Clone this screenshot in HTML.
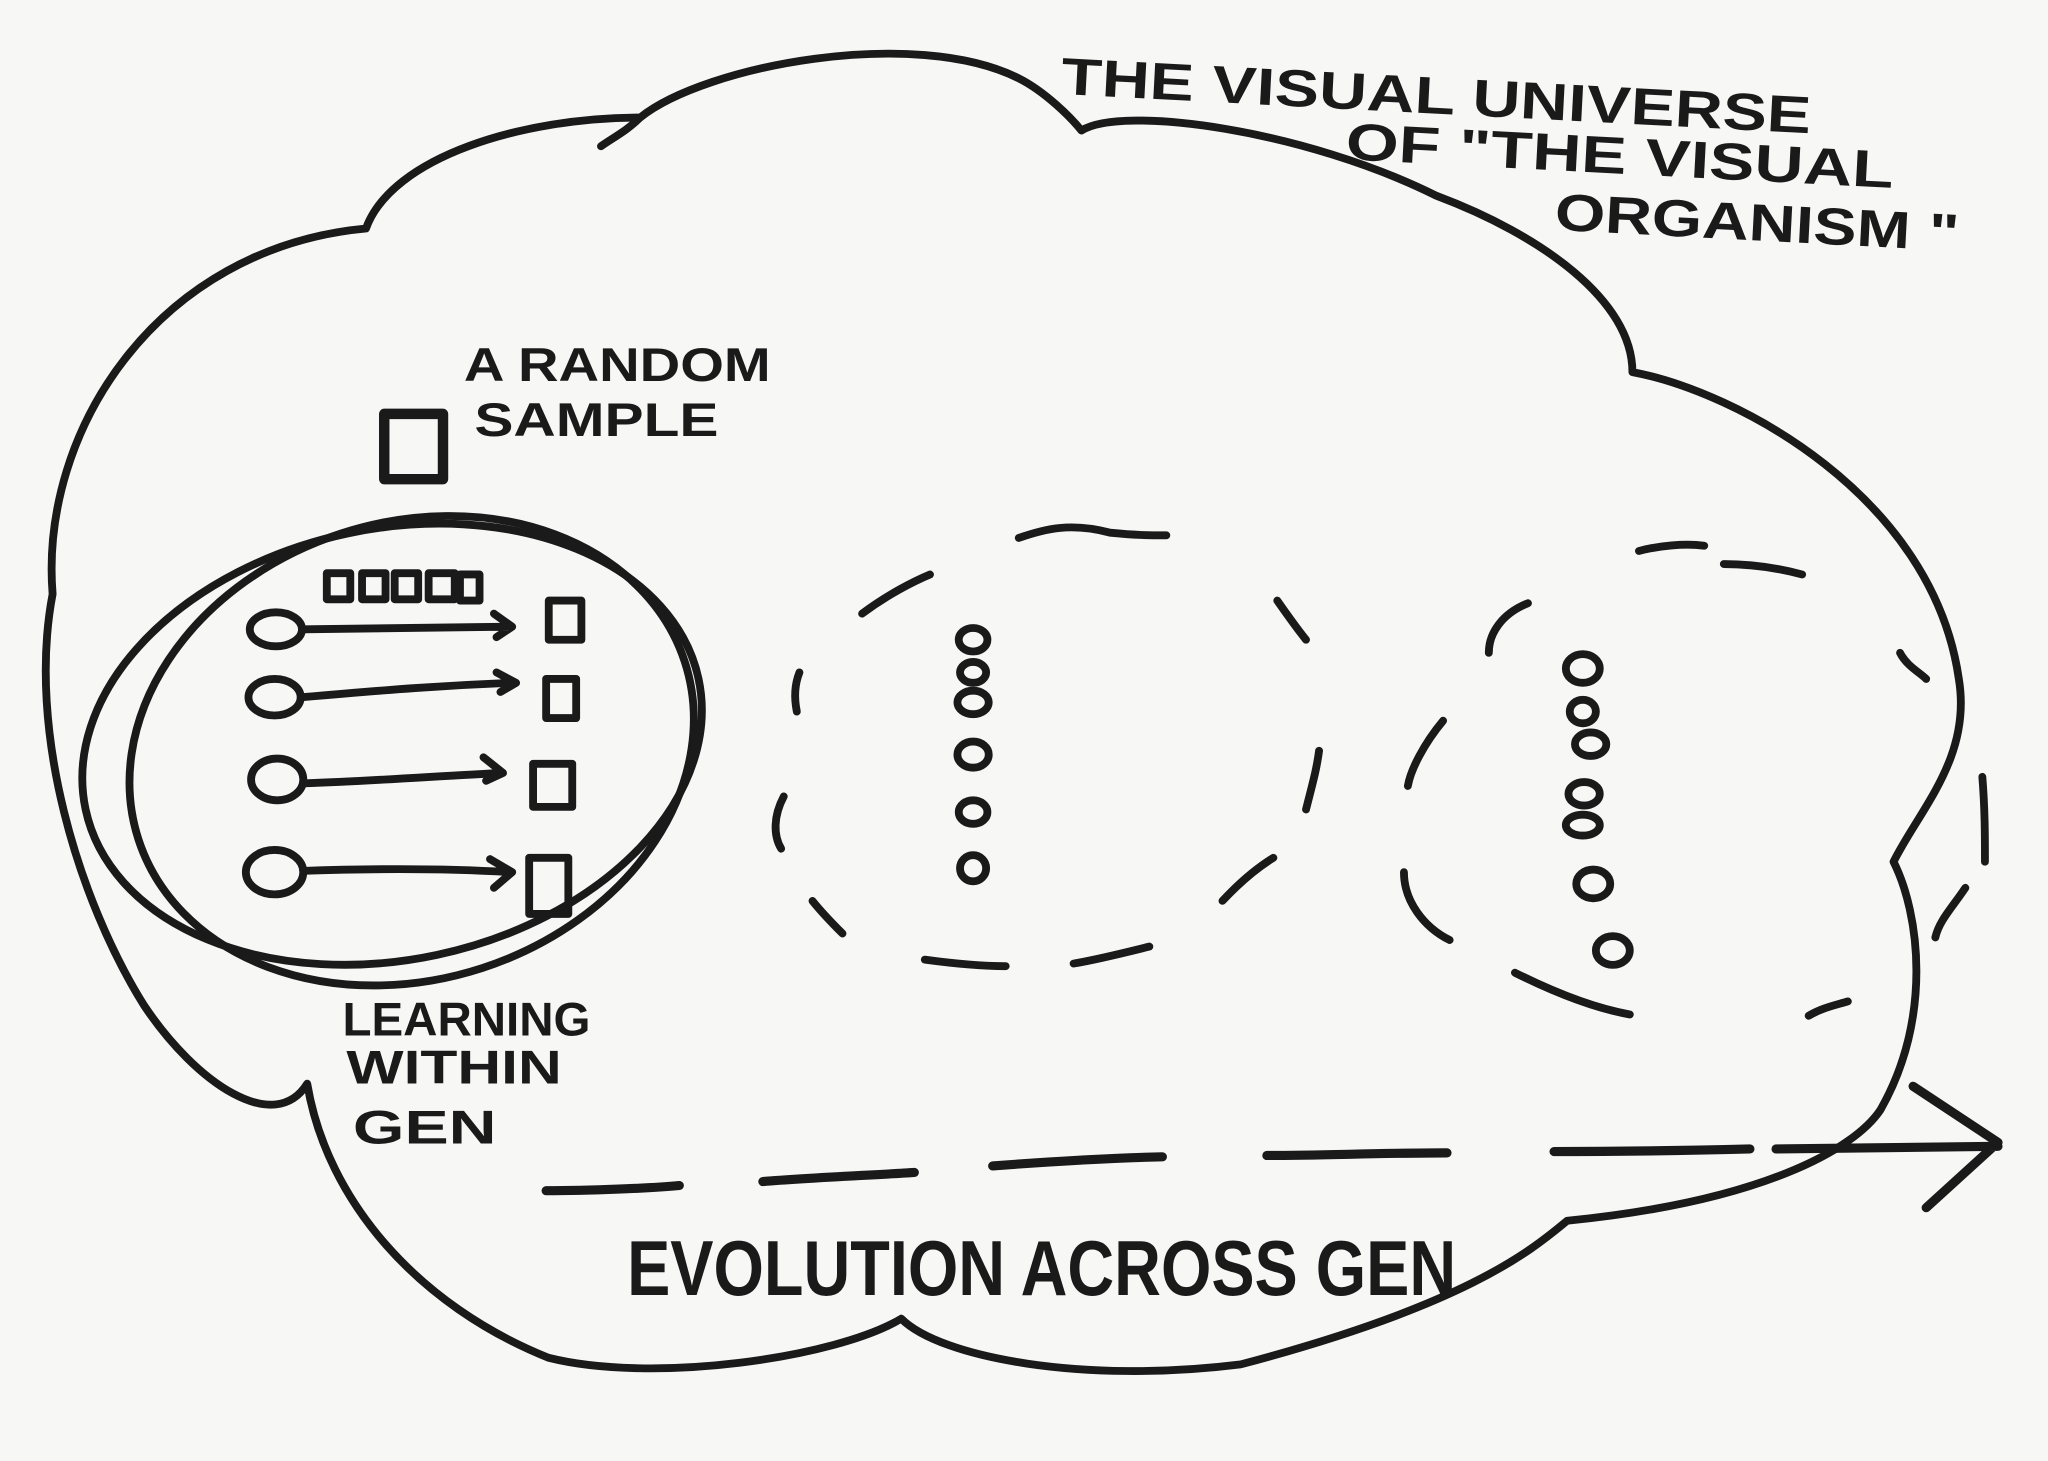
<!DOCTYPE html>
<html><head><meta charset="utf-8"><style>
html,body{margin:0;padding:0;background:#f7f7f6;}
svg{display:block;}
text{font-family:"Liberation Sans",sans-serif;font-weight:bold;fill:#1a1a1a;}
</style></head><body>
<svg width="2048" height="1461" viewBox="0 0 1568 1119" xmlns="http://www.w3.org/2000/svg">
<rect width="1568" height="1119" fill="#f7f7f6"/>
<g fill="none" stroke="#1a1a1a" stroke-width="6" stroke-linecap="round" stroke-linejoin="round">
<path d="M40,455 C30,330 120,190 280,175 C300,120 400,90 490,90 C540,50 700,20 780,60 C800,70 820,90 828,100 C860,80 1000,100 1100,150 C1180,180 1250,230 1250,285 C1330,300 1480,380 1500,520 C1510,580 1470,620 1450,660 C1470,700 1480,780 1440,850 C1420,880 1350,920 1200,935 C1170,960 1120,1000 950,1045 C830,1060 720,1040 690,1010 C640,1040 500,1060 420,1040 C320,1000 250,920 235,830 C210,870 150,830 110,770 C60,690 20,560 40,455 Z"/>
<path d="M490,90 C480,100 470,105 460,112"/>
<ellipse cx="300" cy="570" rx="240" ry="165" transform="rotate(-12 300 570)"/>
<ellipse cx="315" cy="575" rx="220" ry="175" transform="rotate(-18 315 575)"/>
<rect x="294" y="317" width="45" height="50" stroke-width="8"/>
<g stroke-width="6">
<rect x="250" y="439" width="18" height="20"/><rect x="277" y="439" width="18" height="20"/>
<rect x="302" y="439" width="18" height="20"/><rect x="328" y="439" width="20" height="20"/>
<rect x="352" y="440" width="15" height="20"/>
<rect x="420" y="460" width="25" height="30"/><rect x="418" y="520" width="23" height="30"/>
<rect x="408" y="585" width="30" height="33"/><rect x="405" y="657" width="30" height="43"/>
<ellipse cx="211" cy="482" rx="20" ry="13"/><ellipse cx="210" cy="534" rx="20" ry="14"/>
<ellipse cx="212" cy="597" rx="20" ry="16"/><ellipse cx="210" cy="668" rx="22" ry="17"/>
<path d="M232,482 L390,480 M378,470 L392,480 L380,488"/>
<path d="M231,534 C300,528 340,525 390,523 M380,515 L395,523 L383,530"/>
<path d="M232,600 C290,598 340,594 385,592 M370,580 L385,592 L372,598"/>
<path d="M232,667 C290,665 340,665 390,668 M375,658 L392,668 L378,680"/>
</g>
<path d="M780,412 C800,405 820,400 850,408 C870,410 880,410 893,410"/>
<path d="M660,470 C680,455 700,445 712,440"/>
<path d="M612,515 C608,525 608,535 610,545"/>
<path d="M600,610 C592,625 592,640 598,650"/>
<path d="M622,690 C630,700 640,710 645,715"/>
<path d="M708,735 C730,738 750,740 770,740"/>
<path d="M822,738 C840,735 860,730 880,725"/>
<path d="M936,690 C950,675 962,665 975,657"/>
<path d="M1000,620 C1005,600 1008,590 1010,575"/>
<path d="M978,460 C985,470 992,480 1000,490"/>
<ellipse cx="745" cy="490" rx="11" ry="9"/><ellipse cx="745" cy="515" rx="10" ry="8"/>
<ellipse cx="745" cy="538" rx="12" ry="9"/><ellipse cx="745" cy="578" rx="12" ry="10"/>
<ellipse cx="745" cy="622" rx="11" ry="9"/><ellipse cx="745" cy="665" rx="10" ry="10"/>
<path d="M1255,422 C1270,418 1290,416 1305,418"/>
<path d="M1320,432 C1345,432 1365,436 1380,440"/>
<path d="M1455,500 C1460,510 1470,515 1475,520"/>
<path d="M1518,595 C1520,620 1520,640 1520,660"/>
<path d="M1505,680 C1495,695 1485,705 1482,718"/>
<path d="M1385,778 C1395,772 1405,770 1415,767"/>
<path d="M1160,745 C1190,760 1220,772 1248,777"/>
<path d="M1075,668 C1075,690 1090,710 1110,720"/>
<path d="M1105,552 C1090,570 1080,590 1078,602"/>
<path d="M1170,462 C1150,470 1140,485 1140,500"/>
<ellipse cx="1212" cy="512" rx="13" ry="11"/><ellipse cx="1212" cy="545" rx="10" ry="9"/>
<ellipse cx="1218" cy="570" rx="12" ry="9"/><ellipse cx="1213" cy="608" rx="12" ry="9"/>
<ellipse cx="1212" cy="632" rx="13" ry="8"/><ellipse cx="1220" cy="677" rx="13" ry="11"/>
<ellipse cx="1235" cy="728" rx="13" ry="11"/>
<g stroke-width="7">
<path d="M418,912 C450,912 500,910 520,908"/>
<path d="M584,905 C620,902 670,900 700,898"/>
<path d="M760,893 C800,890 850,887 890,886"/>
<path d="M970,885 C1010,885 1060,883 1108,883"/>
<path d="M1190,882 C1240,882 1300,881 1340,880"/>
<path d="M1360,880 L1530,878 M1465,832 L1530,875 L1475,925"/>
</g>
</g>
<text x="812" y="72" font-size="40" textLength="575" lengthAdjust="spacingAndGlyphs" transform="rotate(3 812 72)">THE VISUAL UNIVERSE</text>
<text x="1030" y="122" font-size="40" textLength="420" lengthAdjust="spacingAndGlyphs" transform="rotate(3 1030 122)">OF "THE VISUAL</text>
<text x="1190" y="176" font-size="40" textLength="310" lengthAdjust="spacingAndGlyphs" transform="rotate(3 1190 176)">ORGANISM "</text>
<text x="355" y="292" font-size="36" textLength="235" lengthAdjust="spacingAndGlyphs">A RANDOM</text>
<text x="363" y="334" font-size="36" textLength="187" lengthAdjust="spacingAndGlyphs">SAMPLE</text>
<text x="262" y="793" font-size="36" textLength="190" lengthAdjust="spacingAndGlyphs">LEARNING</text>
<text x="265" y="830" font-size="36" textLength="165" lengthAdjust="spacingAndGlyphs">WITHIN</text>
<text x="270" y="876" font-size="36" textLength="110" lengthAdjust="spacingAndGlyphs">GEN</text>
<text x="480" y="992" font-size="60" textLength="635" lengthAdjust="spacingAndGlyphs">EVOLUTION ACROSS GEN</text>
</svg>
</body></html>
